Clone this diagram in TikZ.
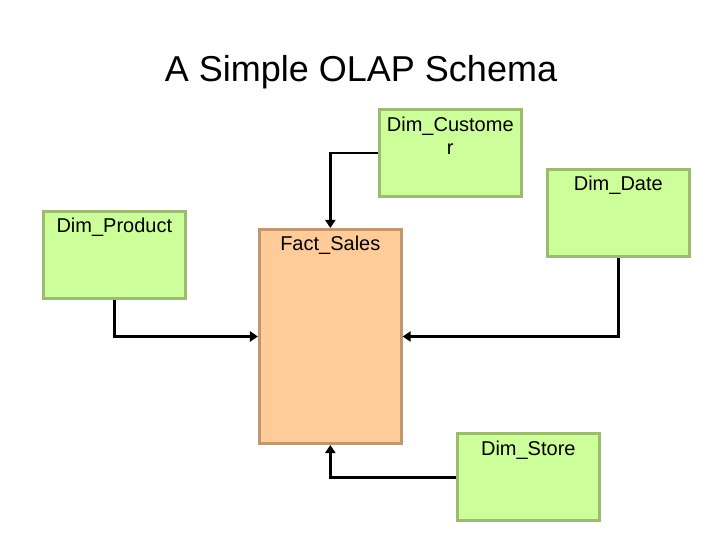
\documentclass[tikz,border=0pt]{standalone}
\usepackage{fontspec}
\setmainfont{Liberation Sans}
\usetikzlibrary{arrows.meta}
\definecolor{dimfill}{RGB}{204,255,153}
\definecolor{dimdraw}{RGB}{156,187,110}
\definecolor{factfill}{RGB}{255,204,153}
\definecolor{factdraw}{RGB}{192,151,110}
\begin{document}
\begin{tikzpicture}[x=1pt,y=-1pt,
  dimbox/.style={draw=dimdraw,fill=dimfill,line width=3pt,minimum width=141.7pt,minimum height=87pt,inner sep=0pt},
  factbox/.style={draw=factdraw,fill=factfill,line width=3pt,minimum width=141.7pt,minimum height=214pt,inner sep=0pt},
  lbl/.style={anchor=base,font=\fontsize{20}{23}\selectfont,inner sep=0pt,align=center},
  conn/.style={line width=2.6pt,-{Triangle[length=8pt,width=10pt]}}
]
\useasboundingbox (0,0) rectangle (720,540);
\node[anchor=base,font=\fontsize{36}{40}\selectfont,inner sep=0pt] (title) at (361,81.7) {A Simple OLAP Schema};

\node[dimbox] (cust) at (450.3,153) {};
\node[dimbox] (date) at (618.3,213) {};
\node[dimbox] (prod) at (114.3,255) {};
\node[factbox] (fact) at (330.3,336.5) {};
\node[dimbox] (store) at (528.3,477.2) {};

\node[lbl] (custl) at (450.3,154.7) {Dim\_Custome\\r};
\node[lbl] (datel) at (618.3,190.7) {Dim\_Date};
\node[lbl] (prodl) at (114.3,232.7) {Dim\_Product};
\node[lbl] (factl) at (330.3,250.7) {Fact\_Sales};
\node[lbl] (storel) at (528.3,455) {Dim\_Store};

\draw[conn] (cust.west) -| (fact.north);
\draw[conn] (prod.south) |- (fact.west);
\draw[conn] (date.south) |- (fact.east);
\draw[conn] (store.west) -| (fact.south);
\end{tikzpicture}
\end{document}
